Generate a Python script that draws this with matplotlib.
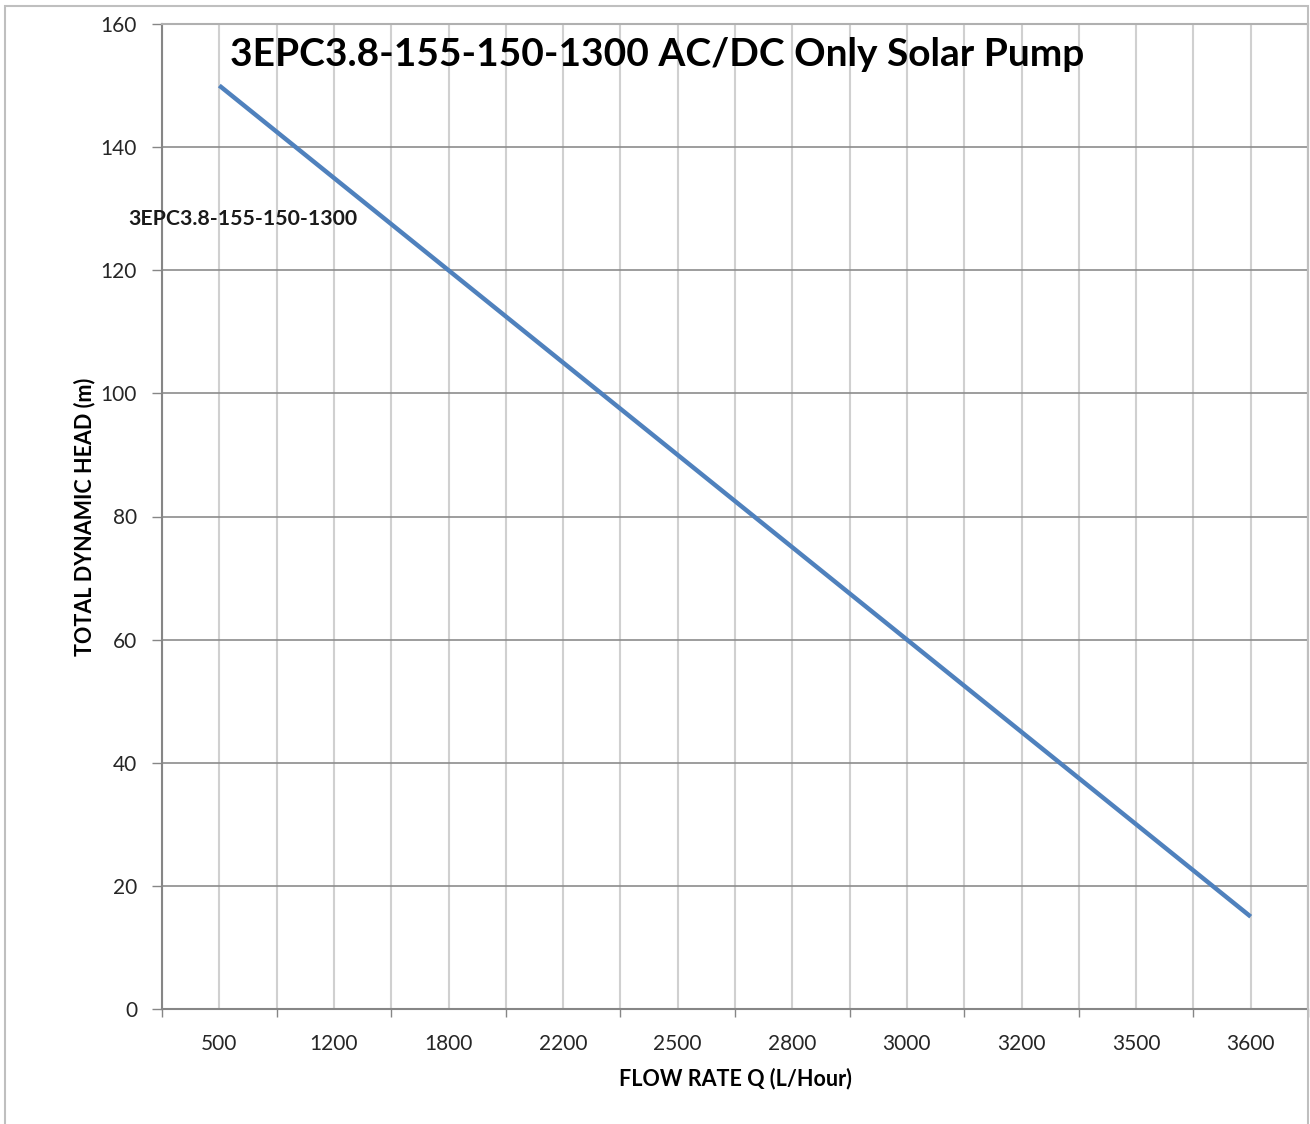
import matplotlib.pyplot as plt
from matplotlib.patches import Rectangle

flow_labels = ['500', '1200', '1800', '2200', '2500', '2800', '3000', '3200', '3500', '3600']
head_m = [150, 135, 120, 105, 90, 75, 60, 45, 30, 15]
series_name = '3EPC3.8-155-150-1300'
title = '3EPC3.8-155-150-1300 AC/DC Only Solar Pump'

plt.rcParams['font.family'] = ['Lato', 'DejaVu Sans']

fig = plt.figure(figsize=(13.1, 11.24), dpi=100)
ax = fig.add_axes([162 / 1310, 1 - 1009 / 1124, 1146 / 1310, 985 / 1124])

# outer chart frame
fig.patches.append(Rectangle((5 / 1310, -0.02), 1303 / 1310, 1 - 6 / 1124 + 0.02,
                             transform=fig.transFigure, fill=False,
                             edgecolor='#bfbfbf', linewidth=1.5))

x = list(range(len(flow_labels)))
ax.plot(x, head_m, color='#4f81bd', linewidth=3.2, solid_capstyle='butt', zorder=3)

ax.set_xlim(-0.5, len(flow_labels) - 0.5)
ax.set_ylim(0, 160)

# boundaries carry the tick marks, centres carry the labels
ax.set_xticks([i - 0.5 for i in range(len(flow_labels) + 1)])
ax.set_xticklabels([])
ax.set_xticks(x, minor=True)
ax.set_xticklabels(flow_labels, minor=True)
ax.tick_params(axis='x', which='major', length=6, width=1, color='#868686', direction='out')
ax.tick_params(axis='x', which='minor', length=0, pad=18, labelsize=15, labelcolor='#262626')
ax.set_yticks(range(0, 161, 20))
ax.tick_params(axis='y', length=7, width=1, color='#868686', pad=11, labelsize=15, labelcolor='#262626')

ax.grid(True, axis='x', which='both', color='#d0d0d0', linewidth=1.5)
ax.grid(True, axis='y', which='major', color='#8c8c8c', linewidth=1.2)
ax.set_axisbelow(True)

for s in ax.spines.values():
    s.set_color('#b0b0b0')
    s.set_linewidth(1.5)
ax.spines['bottom'].set_color('#868686')
ax.spines['left'].set_color('#868686')

ax.set_xlabel('FLOW RATE Q (L/Hour)', fontsize=15.5, fontweight='bold', labelpad=10)
ax.set_ylabel('TOTAL DYNAMIC HEAD (m)', fontsize=15.5, fontweight='bold', labelpad=4)

ax.text(-0.5 + (230 - 162) / 114.6, 155.1, title, fontsize=28, fontweight='bold',
        ha='left', va='center', color='black')
ax.text(-0.5 + (128 - 162) / 114.6, 128.3, series_name, fontsize=15.3, fontweight='bold',
        ha='left', va='center', color='#1a1a1a', clip_on=False)

fig.savefig('out.png', dpi=100)
